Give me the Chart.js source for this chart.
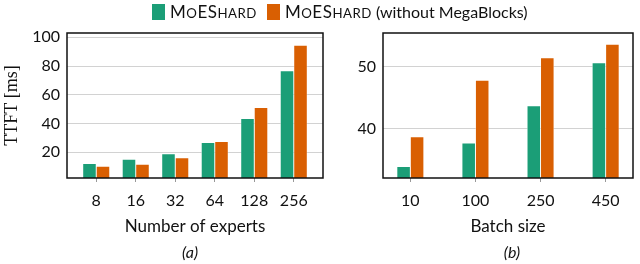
<!DOCTYPE html>
<html>
<head>
<meta charset="utf-8">
<script src="https://cdn.jsdelivr.net/npm/chart.js@4"></script>
<style>
  body { margin: 0; background: #fff; }
  #wrap { position: relative; width: 640px; height: 264px; overflow: hidden; }
  #leftBox { position: absolute; left: 0; top: 0; width: 330px; height: 264px; }
  #rightBox { position: absolute; left: 330px; top: 0; width: 310px; height: 264px; }
  #legend { position: absolute; top: 1px; left: 152px; display: flex; align-items: center;
            font-family: Lato, "Open Sans", sans-serif; font-size: 16px; color: #111; }
  .sw { display: inline-block; width: 13px; height: 16px; margin-right: 5px; }
  .item { display: flex; align-items: baseline; margin-right: 0; }
  .item .sw { align-self: center; }
  .name { font-size: 17px; letter-spacing: 0.5px; }
  .sc { text-transform: uppercase; font-size: 0.78em; }
</style>
</head>
<body>
<div id="wrap">
  <div id="leftBox"><canvas id="expertsChart"></canvas></div>
  <div id="rightBox"><canvas id="batchChart"></canvas></div>
  <div id="legend">
    <span class="item" style="margin-right:10px"><span class="sw" style="background:#1b9e77"></span><span class="name">M<span class="sc">o</span>ES<span class="sc">hard</span></span></span>
    <span class="item"><span class="sw" style="background:#d95f02"></span><span class="name">M<span class="sc">o</span>ES<span class="sc">hard</span></span>&nbsp;(without MegaBlocks)</span>
  </div>
</div>
<script>
// ---------- data ----------
const expertLabels = ['8', '16', '32', '64', '128', '256'];
const expertsMoEShard = [12.1, 15.1, 18.8, 26.7, 43.5, 76.6];
const expertsNoMegaBlocks = [10.2, 11.6, 16.0, 27.4, 51.1, 94.4];
const expertsYTicks = [20, 40, 60, 80, 100];

const batchLabels = ['10', '100', '250', '450'];
const batchMoEShard = [33.9, 37.7, 43.7, 50.6];
const batchNoMegaBlocks = [38.7, 47.8, 51.4, 53.6];
const batchYTicks = [40, 50];

const GREEN = '#1b9e77';
const ORANGE = '#d95f02';
const SANS = 'Lato, "Open Sans", sans-serif';

// frame around the plot area + caption under the panel
const framePlugin = {
    id: 'frame',
    afterDatasetsDraw(chart) {
        const a = chart.chartArea;
        const ctx = chart.ctx;
        ctx.save();
        ctx.strokeStyle = '#111';
        ctx.lineWidth = 1.5;
        ctx.strokeRect(a.left, a.top, a.right - a.left, a.bottom - a.top);
        ctx.restore();
    },
    afterDraw(chart, args, opts) {
        const ctx = chart.ctx;
        ctx.save();
        ctx.font = 'italic 16px ' + SANS;
        ctx.fillStyle = '#111';
        ctx.textAlign = 'center';
        ctx.textBaseline = 'middle';
        ctx.fillText(opts.caption, opts.x, 253);
        ctx.restore();
    }
};

function toPoints(values) {
    return values.map((v, i) => ({ x: i, y: v }));
}

function makeChart(id, cfg) {
    const ctx = document.getElementById(id).getContext('2d');
    return new Chart(ctx, {
        type: 'bar',
        data: {
            datasets: [
                { label: 'MoEShard', data: toPoints(cfg.green), backgroundColor: GREEN,
                  borderColor: 'rgba(255,255,255,0.45)', borderWidth: 0.8, barThickness: 13.5 },
                { label: 'MoEShard (without MegaBlocks)', data: toPoints(cfg.orange), backgroundColor: ORANGE,
                  borderColor: 'rgba(255,255,255,0.45)', borderWidth: 0.8, barThickness: 13.5 }
            ]
        },
        options: {
            responsive: true,
            maintainAspectRatio: false,
            animation: false,
            layout: { padding: { top: 33, right: cfg.padRight, bottom: 0, left: 0 } },
            plugins: {
                legend: { display: false },
                tooltip: { enabled: false },
                frame: { caption: cfg.caption, x: cfg.captionX }
            },
            scales: {
                x: {
                    type: 'linear',
                    offset: false,
                    min: -cfg.margin,
                    max: cfg.labels.length - 1 + cfg.margin,
                    afterBuildTicks: s => { s.ticks = cfg.labels.map((_, i) => ({ value: i })); },
                    afterFit: s => { s.height = 86; },
                    border: { display: false },
                    grid: { offset: false, drawOnChartArea: false, drawTicks: true, tickLength: 4, color: '#999' },
                    ticks: {
                        callback: (v) => cfg.labels[v],
                        font: { family: SANS, size: 16 },
                        color: '#111', padding: 9, maxRotation: 0
                    },
                    title: {
                        display: true, text: cfg.xTitle,
                        font: { family: SANS, size: 17 }, color: '#111',
                        padding: { top: 0, bottom: 27 }
                    }
                },
                y: {
                    min: cfg.yMin,
                    max: cfg.yMax,
                    afterBuildTicks: s => { s.ticks = cfg.yTicks.map(v => ({ value: v })); },
                    afterFit: s => { s.width = cfg.yWidth; },
                    border: { display: false },
                    grid: { color: '#d2d2d2', lineWidth: 1, drawTicks: false },
                    ticks: {
                        font: { family: SANS, size: 16 },
                        color: '#111', padding: 7
                    },
                    title: {
                        display: cfg.yTitle !== '',
                        text: cfg.yTitle,
                        font: { family: '"Liberation Serif", "DejaVu Serif", serif', size: 18 },
                        color: '#111',
                        padding: { top: 1, bottom: 0 }
                    }
                }
            }
        },
        plugins: [framePlugin]
    });
}

makeChart('expertsChart', {
    labels: expertLabels, green: expertsMoEShard, orange: expertsNoMegaBlocks,
    yTicks: expertsYTicks, yMin: 2, yMax: 103, margin: 0.74,
    yWidth: 67, padRight: 7, xTitle: 'Number of experts', yTitle: 'TTFT [ms]',
    caption: '(a)', captionX: 190
});

makeChart('batchChart', {
    labels: batchLabels, green: batchMoEShard, orange: batchNoMegaBlocks,
    yTicks: batchYTicks, yMin: 32.05, yMax: 55.4, margin: 0.42,
    yWidth: 53, padRight: 7, xTitle: 'Batch size', yTitle: '',
    caption: '(b)', captionX: 182
});
</script>
</body>
</html>
